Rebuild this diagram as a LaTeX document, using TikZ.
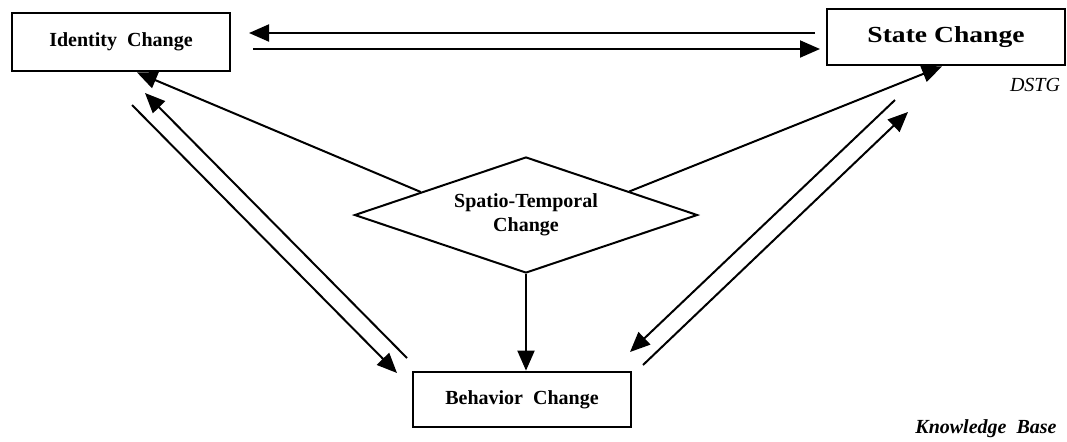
\documentclass[tikz,border=0pt]{standalone}
\usepackage{fontspec}
\setmainfont{Liberation Serif}
\usetikzlibrary{arrows.meta,shapes.geometric,calc}
\begin{document}
\begin{tikzpicture}[x=0.5pt,y=-0.5pt,
  box/.style={draw,line width=1.4pt,rectangle,inner sep=0pt,font=\bfseries\fontsize{10}{12}\selectfont},
  dia/.style={draw,line width=1pt,diamond,aspect=2.96,inner sep=0pt,minimum width=171.5pt,minimum height=58pt,align=center,font=\bfseries\fontsize{10}{12}\selectfont},
  conn/.style={line width=1pt,-{Triangle[length=10pt,width=8.5pt]}},
  plain/.style={line width=1pt}]
\useasboundingbox (0,0) rectangle (1067,441);
\node[box,minimum width=109pt,minimum height=29pt] (id) at (121,42) {Identity\ \ Change};
\node[box,minimum width=119pt,minimum height=28pt,font=\bfseries\fontsize{11.5}{13}\selectfont] (sc) at (946,37) {\scalebox{1.2}[1]{State Change}};
\node[box,minimum width=109pt,minimum height=27.5pt] (bc) at (522,399.5) {Behavior\ \ Change};
\node[dia] (st) at (526,215) {Spatio-Temporal\\Change};
\node[font=\itshape\fontsize{10}{12}\selectfont] (dstg) at (1035,85) {DSTG};
\node[font=\bfseries\itshape\fontsize{10}{12}\selectfont] (kb) at (986,429) {Knowledge\ \ Base};
% top pair
\coordinate (t1s) at (815,33);
\coordinate (t1e) at (249,33);
\coordinate (t2s) at (253,49);
\coordinate (t2e) at (820,49);
\draw[conn] (t1s) -- (t1e);
\draw[conn] (t2s) -- (t2e);
% diamond to boxes
\draw[conn] ($(st.west)!0.39!(st.north)$) -- ([xshift=8pt]id.south);
\draw[conn] ($(st.north)!0.6!(st.east)$) -- ([xshift=-2pt]sc.south);
\draw[conn] (st.south) -- (st.south |- bc.north);
% identity - behavior pair
\coordinate (a1) at (132,105);
\coordinate (a2) at (397,373);
\coordinate (b1) at (407,358);
\coordinate (b2) at (145,93);
\draw[conn] (a1) -- (a2);
\draw[conn] (b1) -- (b2);
% state - behavior pair
\coordinate (c1) at (895,100);
\coordinate (c2) at (630,352);
\coordinate (d1) at (643,365);
\coordinate (d2) at (908,112);
\draw[conn] (c1) -- (c2);
\draw[conn] (d1) -- (d2);
\end{tikzpicture}
\end{document}
